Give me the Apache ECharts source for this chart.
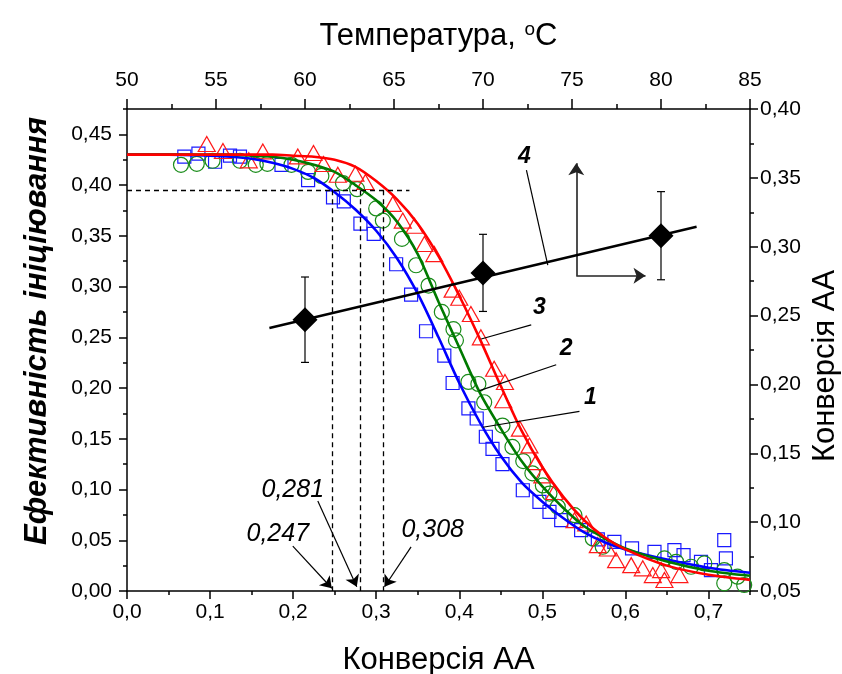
<!DOCTYPE html>
<html><head><meta charset="utf-8">
<script src="https://cdn.jsdelivr.net/npm/echarts/dist/echarts.min.js"></script>
<style>html,body{margin:0;padding:0;background:#fff}#c{width:842px;height:674px}</style>
</head><body><div id="c"></div>
<script>
// ---------- data ----------
const xTicksBottom = [0, 0.1, 0.2, 0.3, 0.4, 0.5, 0.6, 0.7];
const yTicksLeft = [0, 0.05, 0.1, 0.15, 0.2, 0.25, 0.3, 0.35, 0.4, 0.45];
const xTicksTop = [50, 55, 60, 65, 70, 75, 80, 85];
const yTicksRight = [0.05, 0.1, 0.15, 0.2, 0.25, 0.3, 0.35, 0.4];

// fitted curves (conversion -> efficiency)
const curveX = [0, 0.05, 0.1, 0.125, 0.15, 0.175, 0.2, 0.225, 0.25, 0.275, 0.3, 0.325, 0.35, 0.375, 0.4, 0.425, 0.45, 0.475, 0.5, 0.525, 0.55, 0.575, 0.6, 0.65, 0.7, 0.75];
const curve1Y = [0.430, 0.430, 0.429, 0.428, 0.426, 0.422, 0.416, 0.407, 0.393, 0.376, 0.355, 0.328, 0.293, 0.250, 0.205, 0.166, 0.133, 0.107, 0.088, 0.072, 0.058, 0.048, 0.041, 0.031, 0.023, 0.018];
const curve2Y = [0.430, 0.430, 0.430, 0.430, 0.429, 0.428, 0.425, 0.420, 0.413, 0.400, 0.385, 0.364, 0.332, 0.285, 0.240, 0.195, 0.160, 0.128, 0.103, 0.082, 0.064, 0.052, 0.042, 0.029, 0.020, 0.015];
const curve3Y = [0.430, 0.430, 0.430, 0.430, 0.430, 0.430, 0.429, 0.428, 0.425, 0.418, 0.404, 0.386, 0.362, 0.330, 0.291, 0.248, 0.202, 0.158, 0.122, 0.093, 0.070, 0.053, 0.041, 0.025, 0.016, 0.011];

// experimental points
const points1 = [[0.069,0.428],[0.086,0.431],[0.106,0.423],[0.124,0.429],[0.136,0.428],[0.186,0.420],[0.218,0.405],[0.248,0.388],[0.261,0.384],[0.281,0.362],[0.297,0.352],[0.324,0.322],[0.342,0.292],[0.360,0.256],[0.382,0.232],[0.392,0.205],[0.411,0.180],[0.421,0.170],[0.432,0.152],[0.440,0.140],[0.452,0.125],[0.4765,0.0993],[0.4965,0.0878],[0.5086,0.0780],[0.5227,0.0698],[0.5467,0.0600],[0.5668,0.0508],[0.5867,0.0485],[0.608,0.042],[0.635,0.0386],[0.659,0.0403],[0.670,0.0354],[0.691,0.0288],[0.703,0.0206],[0.719,0.0501],[0.721,0.0321]];
const points2 = [[0.065,0.420],[0.084,0.421],[0.103,0.424],[0.136,0.424],[0.155,0.420],[0.169,0.421],[0.198,0.420],[0.218,0.413],[0.234,0.409],[0.260,0.402],[0.277,0.396],[0.300,0.377],[0.308,0.365],[0.331,0.347],[0.348,0.321],[0.363,0.301],[0.379,0.275],[0.393,0.258],[0.396,0.247],[0.411,0.206],[0.423,0.204],[0.430,0.186],[0.452,0.163],[0.464,0.142],[0.477,0.128],[0.488,0.116],[0.5006,0.104],[0.5086,0.096],[0.5186,0.083],[0.5387,0.0747],[0.5607,0.0518],[0.5727,0.0436],[0.647,0.0321],[0.661,0.0288],[0.679,0.0239],[0.695,0.0272],[0.719,0.0206],[0.719,0.0076],[0.735,0.0141],[0.743,0.0059]];
const points3 = [[0.096,0.4405],[0.1155,0.4336],[0.1466,0.4244],[0.1635,0.4332],[0.2056,0.4283],[0.2245,0.4316],[0.2366,0.4208],[0.2538,0.4102],[0.275,0.4112],[0.287,0.403],[0.320,0.3815],[0.332,0.365],[0.346,0.360],[0.358,0.342],[0.370,0.332],[0.392,0.297],[0.400,0.289],[0.414,0.273],[0.426,0.250],[0.442,0.219],[0.455,0.206],[0.453,0.188],[0.473,0.160],[0.4845,0.1435],[0.4925,0.127],[0.500,0.114],[0.5146,0.0976],[0.5387,0.0698],[0.5528,0.0665],[0.5668,0.0452],[0.5788,0.0419],[0.5888,0.0304],[0.607,0.0255],[0.6209,0.0223],[0.633,0.0157],[0.643,0.0206],[0.647,0.0108],[0.665,0.0157]];

// series 4: temperature -> conversion
const temps4 = [60, 70, 80];
const conv4 = [0.247, 0.281, 0.308];
const err4 = [0.031, 0.028, 0.032];
const line4 = [[58, 0.241], [82, 0.3145]];

// annotations
const dashY = 0.395;
const dashX = [0.247, 0.281, 0.308];
const dashEndX = 0.340;
const valueLabels = [['0,281', 0.1996, 0.0992], ['0,247', 0.1815, 0.056], ['0,308', 0.368, 0.060]];
const valueArrows = [[[0.2297,0.0887],[0.2766,0.0043]], [[0.1996,0.0442],[0.2465,0.0027]], [[0.342,0.0435],[0.310,0.0042]]];
const curveLabels = [['1', 0.558, 0.1906], ['2', 0.5287, 0.2385], ['3', 0.4966, 0.2793]];
const curveLeaders = [[[0.5447,0.1771],[0.4283,0.1614]], [[0.5167,0.2230],[0.4243,0.1975]], [[0.4866,0.2623],[0.4264,0.2483]]];
const label4 = ['4', 72.33, 0.3652];
const leader4 = [[72.44, 0.3557], [73.64, 0.2867]];
const axisArrows = [[[75.24,0.279],[75.24,0.3606]], [[75.24,0.279],[79.13,0.279]]];

// ---------- chart ----------
const FONT = '"Liberation Sans", Arial, sans-serif';
const BLACK = '#000';
const isMult = (v, s) => Math.abs(v / s - Math.round(v / s)) < 1e-6;
const comma = (v, d) => v.toFixed(d).replace('.', ',');
const lab = (fmt, margin) => ({fontSize: 21, color: BLACK, fontFamily: FONT, margin: margin, formatter: fmt});
const zip = (xs, ys) => xs.map((x, i) => [x, ys[i]]);

function baseAxis(extra) {
  return Object.assign({
    type: 'value', splitLine: {show: false},
    axisLine: {show: true, onZero: false, lineStyle: {color: BLACK, width: 1.5}},
    axisTick: {show: true, inside: false, length: 4, lineStyle: {color: BLACK, width: 1.5}},
  }, extra);
}
function majorAxis(extra, ticks, len) {
  return Object.assign({
    type: 'value', splitLine: {show: false},
    axisLine: {show: false, onZero: false},
    axisTick: {show: true, inside: false, length: len, customValues: ticks, lineStyle: {color: BLACK, width: 1.5}},
    axisLabel: {show: false}
  }, extra);
}

const chart = echarts.init(document.getElementById('c'), null, {renderer: 'canvas'});
const annoText = (arr) => arr.map(a => ({value: [a[1], a[2]], name: a[0]}));
const hollow = (c) => ({color: 'rgba(0,0,0,0)', borderColor: c, borderWidth: 1.2, opacity: 1});
const textSeries = (xi, yi, data, extraLabel) => ({
  type: 'scatter', xAxisIndex: xi, yAxisIndex: yi, silent: true, symbolSize: 1,
  itemStyle: {color: 'rgba(0,0,0,0)', opacity: 1}, data: data, z: 7,
  label: Object.assign({show: true, position: 'inside', formatter: p => p.name, color: BLACK, fontFamily: FONT, opacity: 1}, extraLabel)
});

const option = {
  animation: false,
  backgroundColor: '#fff',
  grid: {left: 127, right: 92, top: 109, bottom: 83, containLabel: false, outerBoundsMode: 'none'},
  graphic: [{
    type: 'text', x: 37, y: 331, rotation: Math.PI / 2,
    style: {text: 'Ефективність ініціювання', font: 'italic bold 31px "Liberation Sans", Arial, sans-serif',
      fill: BLACK, textAlign: 'center', textVerticalAlign: 'middle'}
  }, {
    type: 'text', x: 825, y: 366, rotation: Math.PI / 2,
    style: {text: 'Конверсія АА', font: '31px "Liberation Sans", Arial, sans-serif',
      fill: BLACK, textAlign: 'center', textVerticalAlign: 'middle'}
  }],
  xAxis: [
    baseAxis({position: 'bottom', min: 0, max: 0.75, interval: 0.05,
      axisLabel: lab(v => isMult(v, 0.1) && v < 0.72 ? comma(v, 1) : '', 11),
      name: 'Конверсія АА', nameLocation: 'middle', nameGap: 54,
      nameTextStyle: {fontSize: 31, color: BLACK, fontFamily: FONT}}),
    baseAxis({position: 'top', min: 50, max: 85, interval: 2.5,
      axisTick: {show: true, inside: false, length: 5, lineStyle: {color: BLACK, width: 1.5}},
      axisLabel: lab(v => isMult(v, 5) ? String(v) : '', 18),
      name: '{a|Температура, }{s|o}{a|C}', nameLocation: 'middle', nameGap: 56,
      nameTextStyle: {rich: {a: {fontSize: 31, color: BLACK, fontFamily: FONT}, s: {fontSize: 19, color: BLACK, fontFamily: FONT, verticalAlign: 'top', padding: [0, 0, 14, 0]}}}}),
    majorAxis({position: 'bottom', min: 0, max: 0.75, interval: 0.1}, xTicksBottom, 8),
    majorAxis({position: 'top', min: 50, max: 85, interval: 5}, xTicksTop, 10)
  ],
  yAxis: [
    baseAxis({position: 'left', min: 0, max: 0.475, interval: 0.025,
      axisLabel: lab(v => isMult(v, 0.05) && v < 0.46 ? comma(v, 2) : '', 15)}),
    baseAxis({position: 'right', min: 0.05, max: 0.40, interval: 0.025,
      axisLabel: lab(v => isMult(v, 0.05) ? comma(v, 2) : '', 10)}),
    majorAxis({position: 'left', min: 0, max: 0.475, interval: 0.05}, yTicksLeft, 8),
    majorAxis({position: 'right', min: 0.05, max: 0.40, interval: 0.05}, yTicksRight, 8)
  ],
  series: [
    // dashed guide lines
    {type: 'line', xAxisIndex: 0, yAxisIndex: 0, data: [], silent: true,
      markLine: {silent: true, symbol: ['none', 'none'], label: {show: false},
        lineStyle: {color: BLACK, width: 1.3, type: [5, 4]},
        data: [[{coord: [0, dashY]}, {coord: [dashEndX, dashY]}]].concat(dashX.map(x => [{coord: [x, dashY]}, {coord: [x, 0]}]))}},
    // markers
    {type: 'scatter', xAxisIndex: 0, yAxisIndex: 0, data: points1, symbol: 'rect', symbolSize: 13, itemStyle: hollow('#1a1aff'), z: 3},
    {type: 'scatter', xAxisIndex: 0, yAxisIndex: 0, data: points2, symbol: 'circle', symbolSize: 15, itemStyle: hollow('#1a8c1a'), z: 3},
    {type: 'scatter', xAxisIndex: 0, yAxisIndex: 0, data: points3, symbol: 'triangle', symbolSize: [17, 15], itemStyle: hollow('#ff1a1a'), z: 3},
    // curves
    {type: 'line', xAxisIndex: 0, yAxisIndex: 0, data: zip(curveX, curve1Y), smooth: 0.3, showSymbol: false,
      lineStyle: {color: '#0000ff', width: 2.6}, z: 4},
    {type: 'line', xAxisIndex: 0, yAxisIndex: 0, data: zip(curveX, curve2Y), smooth: 0.3, showSymbol: false,
      lineStyle: {color: '#007a00', width: 2.6}, z: 4},
    {type: 'line', xAxisIndex: 0, yAxisIndex: 0, data: zip(curveX, curve3Y), smooth: 0.3, showSymbol: false,
      lineStyle: {color: '#ff0000', width: 2.6}, z: 4},
    // leaders + arrows on left/bottom coords
    {type: 'line', xAxisIndex: 0, yAxisIndex: 0, data: [], silent: true,
      markLine: {silent: true, symbol: ['none', 'none'], label: {show: false},
        lineStyle: {color: BLACK, width: 1.2, type: 'solid'},
        data: curveLeaders.map(s => [{coord: s[0]}, {coord: s[1]}])}},
    {type: 'line', xAxisIndex: 0, yAxisIndex: 0, data: [], silent: true,
      markLine: {silent: true, symbol: ['none', 'arrow'], symbolSize: 11, label: {show: false},
        lineStyle: {color: BLACK, width: 1.2, type: 'solid'},
        data: valueArrows.map(s => [{coord: s[0]}, {coord: s[1]}])}},
    textSeries(0, 0, annoText(valueLabels), {fontSize: 25, fontStyle: 'italic'}),
    textSeries(0, 0, annoText(curveLabels), {fontSize: 23, fontStyle: 'italic', fontWeight: 'bold'}),
    // series 4 (top/right coords)
    {type: 'line', xAxisIndex: 1, yAxisIndex: 1, data: line4, showSymbol: false, lineStyle: {color: BLACK, width: 2.4}, z: 5},
    {type: 'custom', xAxisIndex: 1, yAxisIndex: 1, z: 5,
      data: temps4.map((t, i) => [t, conv4[i], err4[i]]),
      renderItem: (params, api) => {
        const x = api.value(0), y = api.value(1), e = api.value(2);
        const a = api.coord([x, y + e]), b = api.coord([x, y - e]);
        const w = 4, st = {stroke: BLACK, lineWidth: 1.2};
        return {type: 'group', children: [
          {type: 'line', shape: {x1: a[0], y1: a[1], x2: b[0], y2: b[1]}, style: st},
          {type: 'line', shape: {x1: a[0] - w, y1: a[1], x2: a[0] + w, y2: a[1]}, style: st},
          {type: 'line', shape: {x1: b[0] - w, y1: b[1], x2: b[0] + w, y2: b[1]}, style: st}
        ]};
      }},
    {type: 'scatter', xAxisIndex: 1, yAxisIndex: 1, data: temps4.map((t, i) => [t, conv4[i]]),
      symbol: 'diamond', symbolSize: 25, itemStyle: {color: BLACK, opacity: 1}, z: 6},
    {type: 'line', xAxisIndex: 1, yAxisIndex: 1, data: [], silent: true,
      markLine: {silent: true, symbol: ['none', 'none'], label: {show: false},
        lineStyle: {color: BLACK, width: 1.2, type: 'solid'},
        data: [[{coord: leader4[0]}, {coord: leader4[1]}]]}},
    {type: 'line', xAxisIndex: 1, yAxisIndex: 1, data: [], silent: true,
      markLine: {silent: true, symbol: ['none', 'arrow'], symbolSize: 12, label: {show: false},
        lineStyle: {color: '#222', width: 1.6, type: 'solid'},
        data: axisArrows.map(s => [{coord: s[0]}, {coord: s[1]}])}},
    textSeries(1, 1, [{value: [label4[1], label4[2]], name: label4[0]}], {fontSize: 23, fontStyle: 'italic', fontWeight: 'bold'})
  ]
};
chart.setOption(option);
</script></body></html>
